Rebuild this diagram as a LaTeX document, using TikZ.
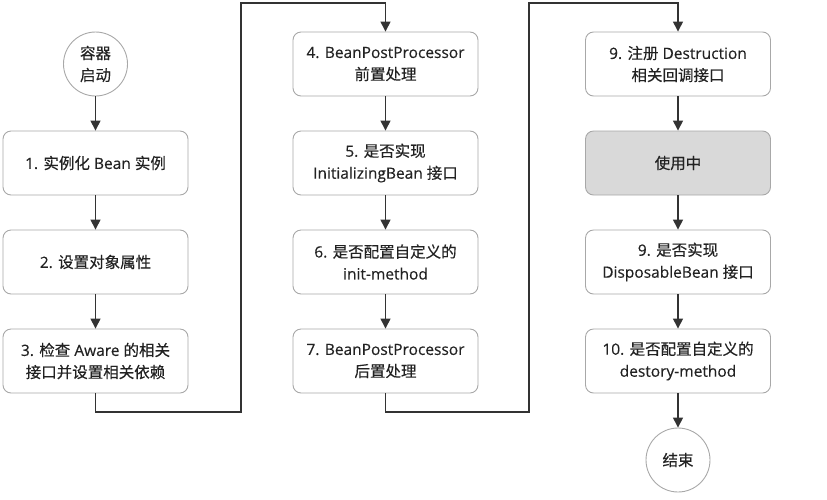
\documentclass[tikz,border=0pt]{standalone}
\usepackage{fontspec}
\setmainfont[FakeBold=0.3]{Open Sans}
\newfontfamily\cjk[FakeBold=0.4]{Noto Sans CJK SC}
\newcommand\zh[1]{{\cjk #1}}
\usetikzlibrary{arrows.meta}
\definecolor{txt}{HTML}{222222}
\definecolor{ln}{HTML}{333333}
\definecolor{bd}{HTML}{A8A8A8}
\definecolor{usef}{HTML}{D9D9D9}
\tikzset{
  stepbox/.style={draw=bd, line width=0.9pt, rounded corners=8pt, minimum width=185pt, minimum height=64pt, align=center, text=txt, font=\fontsize{15.5}{22}\selectfont, inner sep=0pt},
  endpt/.style={circle, draw=bd, line width=0.9pt, minimum size=64pt, inner sep=0pt, align=center, text=txt, font=\fontsize{15.5}{22}\selectfont},
  arr/.style={draw=ln, line width=1.4pt, -{Triangle[width=10pt,length=10pt]}}
}
\begin{document}
\begin{tikzpicture}[x=1pt,y=-1pt]
\useasboundingbox (0,0) rectangle (827,499);
% column 1
\node[endpt] (start) at (95.5,64) {\zh{容器}\\\zh{启动}};
\node[stepbox] (b1) at (95.5,163) {1. \zh{实例化} Bean \zh{实例}};
\node[stepbox] (b2) at (95.5,262) {2. \zh{设置对象属性}};
\node[stepbox] (b3) at (95.5,361) {3. \zh{检查} Aware \zh{的相关}\\\zh{接口并设置相关依赖}};
% column 2
\node[stepbox] (b4) at (385.5,64) {4. BeanPostProcessor\\\zh{前置处理}};
\node[stepbox] (b5) at (385.5,163) {5. \zh{是否实现}\\InitializingBean \zh{接口}};
\node[stepbox] (b6) at (385.5,262) {6. \zh{是否配置自定义的}\\init-method};
\node[stepbox] (b7) at (385.5,361) {7. BeanPostProcessor\\\zh{后置处理}};
% column 3
\node[stepbox] (b8) at (678,64) {9. \zh{注册} Destruction\\\zh{相关回调接口}};
\node[stepbox, fill=usef] (use) at (678,163) {\zh{使用中}};
\node[stepbox] (b9) at (678,262) {9. \zh{是否实现}\\DisposableBean \zh{接口}};
\node[stepbox] (b10) at (678,361) {10. \zh{是否配置自定义的}\\destory-method};
\node[endpt] (fin) at (678,460) {\zh{结束}};
% connector corners
\coordinate (k1) at (241,412);
\coordinate (k2) at (241,3);
\coordinate (k3) at (529,412);
\coordinate (k4) at (529,3);
% arrows
\draw[arr] (start) -- (b1);
\draw[arr] (b1) -- (b2);
\draw[arr] (b2) -- (b3);
\draw[arr] (b3.south) |- (k1) -- (k2) -| (b4.north);
\draw[arr] (b4) -- (b5);
\draw[arr] (b5) -- (b6);
\draw[arr] (b6) -- (b7);
\draw[arr] (b7.south) |- (k3) -- (k4) -| (b8.north);
\draw[arr] (b8) -- (use);
\draw[arr] (use) -- (b9);
\draw[arr] (b9) -- (b10);
\draw[arr] (b10) -- (fin);
\end{tikzpicture}
\end{document}
